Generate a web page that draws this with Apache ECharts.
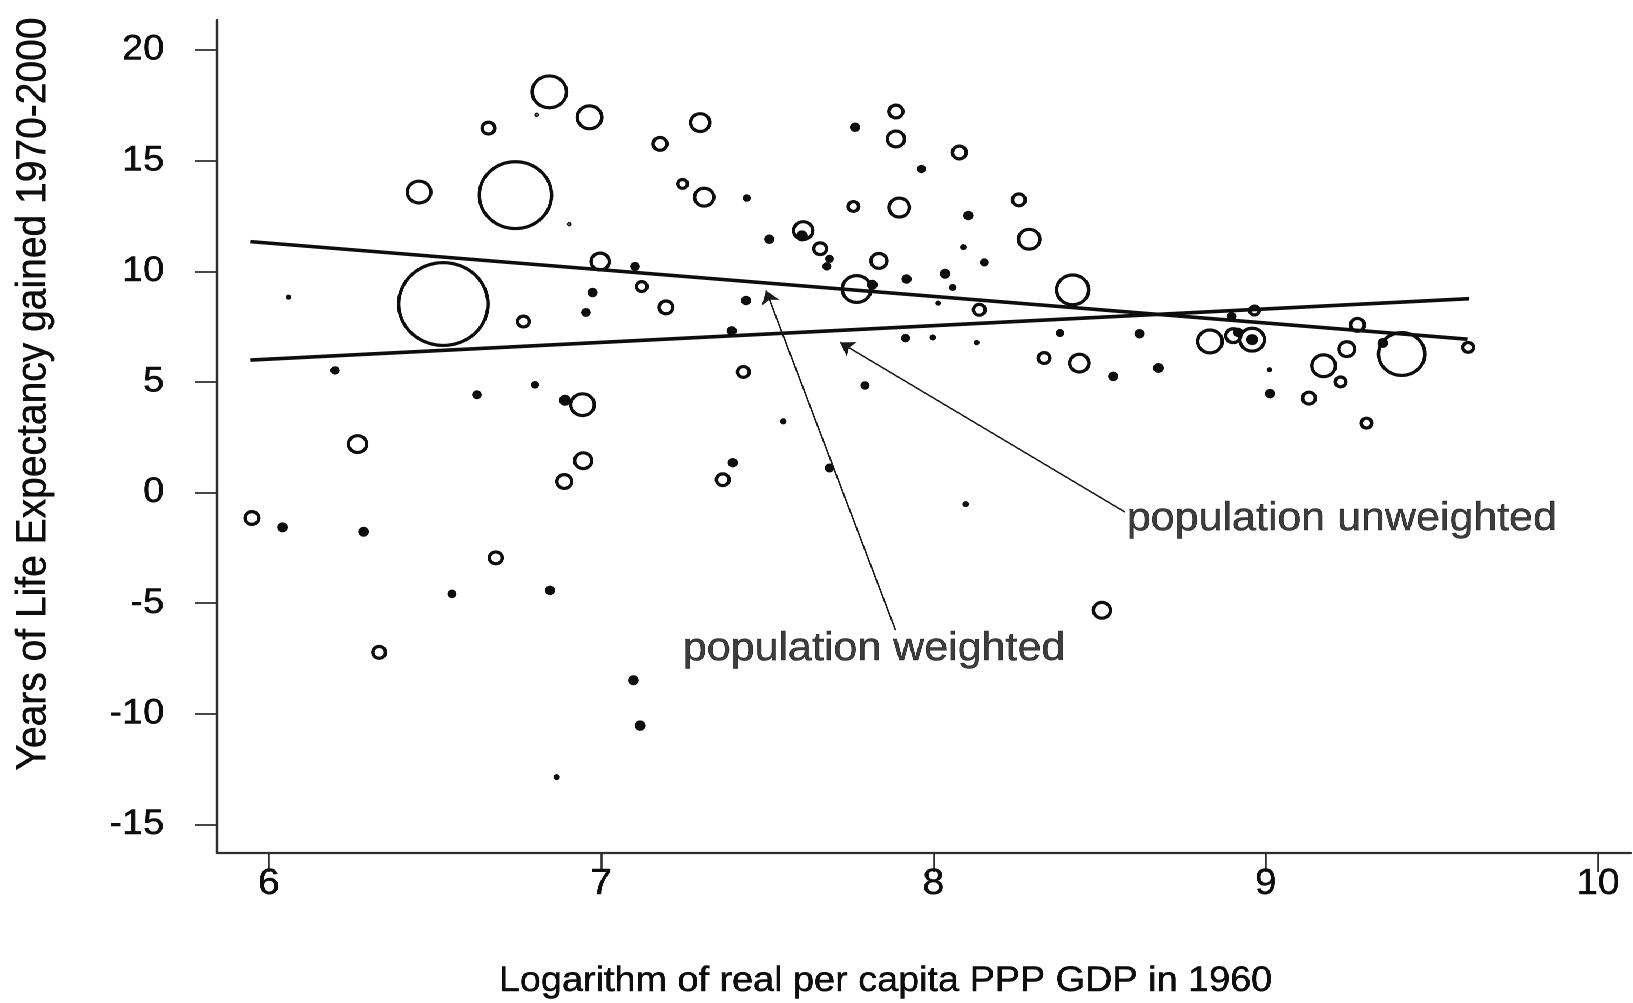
<!DOCTYPE html>
<html>
<head>
<meta charset="utf-8">
<script src="https://cdn.jsdelivr.net/npm/echarts@6/dist/echarts.min.js"></script>
<style>
  html, body { margin: 0; padding: 0; background: #ffffff; overflow: hidden; }
  #wrap { width: 1633px; height: 1003px; overflow: hidden; position: relative; background: #fff; }
  #chart { position: absolute; left: 0; top: 0; height: 1003px; transform-origin: 0 0; }
</style>
</head>
<body>
<div id="wrap"><div id="chart"></div></div>
<script>
// ---------------- DATA ----------------
// log of real per-capita PPP GDP in 1960
const gdpLog1960 = [
  6.844, 6.806, 6.965, 6.661, 6.452, 6.742, 6.904, 6.997, 7.102, 6.059,
  6.525, 6.766, 6.974, 6.954, 7.122, 6.199, 6.626, 6.801, 6.891, 6.944,
  6.267, 6.946, 6.889, 7.298, 7.177, 7.245, 7.310, 7.438, 7.506, 7.608,
  7.604, 7.659, 7.687, 7.679, 7.836, 7.769, 7.816, 7.764, 7.887, 7.887,
  8.078, 7.964, 7.759, 7.897, 8.105, 8.257, 8.288, 8.090, 8.153, 7.919,
  8.035, 8.058, 8.014, 8.138, 8.419, 7.436, 7.195, 7.393, 7.916, 7.998,
  8.130, 8.381, 8.333, 8.439, 7.428, 7.794, 7.548, 7.396, 7.366, 7.687,
  8.620, 8.541, 8.677, 8.832, 8.902, 8.917, 8.959, 8.959, 8.897, 8.966,
  9.276, 9.244, 9.174, 9.225, 9.409, 9.352, 9.609, 9.011, 9.013, 9.130,
  9.303, 5.949, 6.041, 6.285, 6.683, 6.551, 6.846, 6.332, 7.097, 7.117,
  6.866, 8.097, 8.507
];
// years of life expectancy gained 1970-2000
const lifeExpGain = [
  18.11, 17.07, 16.96, 16.47, 13.58, 13.44, 12.13, 10.44, 10.22, 8.83,
  8.52, 7.73, 9.04, 8.14, 9.31, 5.52, 4.42, 4.87, 4.17, 3.97,
  2.19, 1.44, 0.50, 16.72, 15.76, 13.95, 13.35, 13.31, 11.45, 11.84,
  11.60, 11.02, 10.56, 10.22, 10.47, 9.20, 9.39, 16.51, 17.22, 15.98,
  15.37, 14.62, 12.93, 12.88, 12.52, 13.23, 11.45, 11.09, 10.40, 9.65,
  9.89, 9.27, 8.56, 8.26, 9.16, 8.68, 8.37, 7.31, 6.98, 7.01,
  6.78, 7.21, 6.08, 5.85, 5.45, 4.84, 3.22, 1.35, 0.58, 1.11,
  7.18, 5.25, 5.63, 6.83, 7.09, 7.24, 6.91, 6.91, 7.96, 8.23,
  7.58, 6.48, 5.73, 5.00, 6.26, 6.76, 6.56, 5.55, 4.47, 4.27,
  3.14, -1.15, -1.57, -1.77, -2.95, -4.58, -4.42, -7.22, -8.48, -10.53,
  -12.86, -0.52, -5.32
];
// population (millions, approx.) -> bubble area
const population = [
  105.6, 1.1, 57.1, 17.9, 52.6, 434.8, 1.1, 33.0, 5.8, 1.5,
  660.0, 15.4, 6.6, 5.8, 13.2, 5.1, 5.8, 3.9, 9.1, 52.6,
  33.0, 29.6, 23.4, 36.5, 20.5, 11.1, 36.5, 3.9, 6.6, 36.5,
  9.1, 17.9, 4.5, 5.1, 26.4, 76.8, 7.4, 6.6, 20.5, 29.6,
  20.5, 5.1, 13.2, 40.3, 6.6, 17.9, 44.2, 2.3, 4.5, 6.6,
  7.4, 3.3, 1.5, 15.4, 93.5, 6.6, 20.5, 6.6, 5.1, 2.3,
  1.8, 4.5, 15.4, 36.5, 15.4, 5.1, 2.3, 6.6, 17.9, 5.8,
  6.6, 6.6, 7.4, 57.1, 23.4, 6.6, 57.1, 9.1, 5.8, 11.1,
  20.5, 26.4, 52.6, 13.2, 184.9, 7.4, 13.2, 1.5, 6.6, 17.9,
  13.2, 20.5, 7.4, 7.4, 17.9, 5.1, 6.6, 17.9, 7.4, 8.2,
  2.3, 2.3, 29.6
];

// fitted lines (end points)
const weightedFitX = [5.944, 9.607];
const weightedFitY = [11.34, 6.93];
const unweightedFitX = [5.944, 9.612];
const unweightedFitY = [5.99, 8.76];

// annotations
const annotationText = ['population unweighted', 'population weighted'];
const annotationX = [8.582, 7.246];
const annotationY = [-1.20, -7.06];
const arrowTailX = [8.576, 7.886];
const arrowTailY = [-0.88, -6.22];
const arrowTipX = [7.719, 7.496];
const arrowTipY = [6.79, 9.13];

// axes
const xTickValues = [6, 7, 8, 9, 10];
const yTickValues = [-15, -10, -5, 0, 5, 10, 15, 20];
const xAxisTitle = 'Logarithm of real per capita PPP GDP in 1960';
const yAxisTitle = 'Years of Life Expectancy gained 1970-2000';

// ---------------- CHART ----------------
const STRETCH = 1.08;                 // the reference figure is horizontally stretched
const FULL_W = 1633, FULL_H = 1003;
const W = FULL_W / STRETCH;
const el = document.getElementById('chart');
el.style.width = W + 'px';
el.style.transform = 'scaleX(' + STRETCH + ')';

const FONT = '"Liberation Sans", Arial, Helvetica, sans-serif';
const INK = '#0d0d0d';
const BW = 3.2;
function outerDiameter(pop) { return 3.309 * Math.sqrt(pop) + 1; }

const points = gdpLog1960.map((x, i) => [x, lifeExpGain[i], population[i]]);
const annData = annotationText.map((t, i) => ({ value: [annotationX[i], annotationY[i]], name: t }));
const arrowData = arrowTailX.map((x, i) => ({ coords: [[x, arrowTailY[i]], [arrowTipX[i], arrowTipY[i]]] }));

const chart = echarts.init(el, null, { renderer: 'canvas', devicePixelRatio: 2 });

const textBorder = { textBorderColor: INK, textBorderWidth: 0.5 };

const option = {
  backgroundColor: '#ffffff',
  animation: false,
  grid: {
    left: 217 / STRETCH, right: W - 1631 / STRETCH, top: 20, bottom: 150,
    containLabel: false, outerBoundsMode: 'none'
  },
  xAxis: {
    type: 'value',
    min: 5.844, max: 10.099,
    axisLine: { show: true, onZero: false, lineStyle: { color: '#2e2e2e', width: 2.2 } },
    axisTick: { show: true, customValues: xTickValues, length: 19, lineStyle: { color: '#2e2e2e', width: 1.8 } },
    axisLabel: Object.assign({
      show: true, customValues: xTickValues, margin: 13,
      fontFamily: FONT, fontSize: 36, lineHeight: 36, color: INK
    }, textBorder),
    splitLine: { show: false }
  },
  yAxis: {
    type: 'value',
    min: -16.288, max: 21.356,
    axisLine: { show: true, onZero: false, lineStyle: { color: '#2e2e2e', width: 2.2 } },
    axisTick: { show: true, customValues: yTickValues, length: 20, lineStyle: { color: '#2e2e2e', width: 1.8 } },
    axisLabel: Object.assign({
      show: true, customValues: yTickValues, margin: 49,
      fontFamily: FONT, fontSize: 35, lineHeight: 35, color: INK
    }, textBorder),
    splitLine: { show: false }
  },
  graphic: [
    {
      type: 'text', x: 885.5 / STRETCH, y: 981.5, silent: true,
      style: { text: xAxisTitle, font: '35px ' + FONT, fill: INK, stroke: INK, lineWidth: 0.5, align: 'center', verticalAlign: 'middle' }
    },
    {
      type: 'text', x: 31.2, y: 394, rotation: Math.PI / 2, silent: true,
      style: { text: yAxisTitle, font: '39px ' + FONT, fill: INK, stroke: INK, lineWidth: 0.5, align: 'center', verticalAlign: 'middle' }
    }
  ],
  series: [
    {
      name: 'countries', type: 'scatter', silent: true, z: 3,
      data: points,
      symbol: 'circle',
      symbolSize: function (v) { return Math.max(outerDiameter(v[2]) - BW, 0.6); },
      itemStyle: {
        color: function (p) { return outerDiameter(p.value[2]) < 11 ? INK : 'rgba(0,0,0,0)'; },
        borderColor: INK, borderWidth: BW, opacity: 1
      }
    },
    {
      name: 'population weighted fit', type: 'line', silent: true, z: 4,
      data: weightedFitX.map((x, i) => [x, weightedFitY[i]]),
      symbol: 'none', lineStyle: { color: INK, width: 3.6 }
    },
    {
      name: 'population unweighted fit', type: 'line', silent: true, z: 4,
      data: unweightedFitX.map((x, i) => [x, unweightedFitY[i]]),
      symbol: 'none', lineStyle: { color: INK, width: 3.6 }
    },
    {
      name: 'arrows', type: 'lines', coordinateSystem: 'cartesian2d', silent: true, z: 5,
      data: arrowData,
      symbol: ['none', 'arrow'], symbolSize: 13,
      lineStyle: { color: '#1a1a1a', width: 1.5, curveness: 0, opacity: 1 }
    },
    {
      name: 'labels', type: 'scatter', silent: true, z: 6,
      data: annData, symbolSize: 0,
      label: Object.assign({
        show: true, position: 'right', distance: 0,
        formatter: function (p) { return p.name; },
        fontFamily: FONT, fontSize: 39.8, lineHeight: 40, color: INK
      }, textBorder)
    }
  ]
};
chart.setOption(option);
</script>
</body>
</html>
